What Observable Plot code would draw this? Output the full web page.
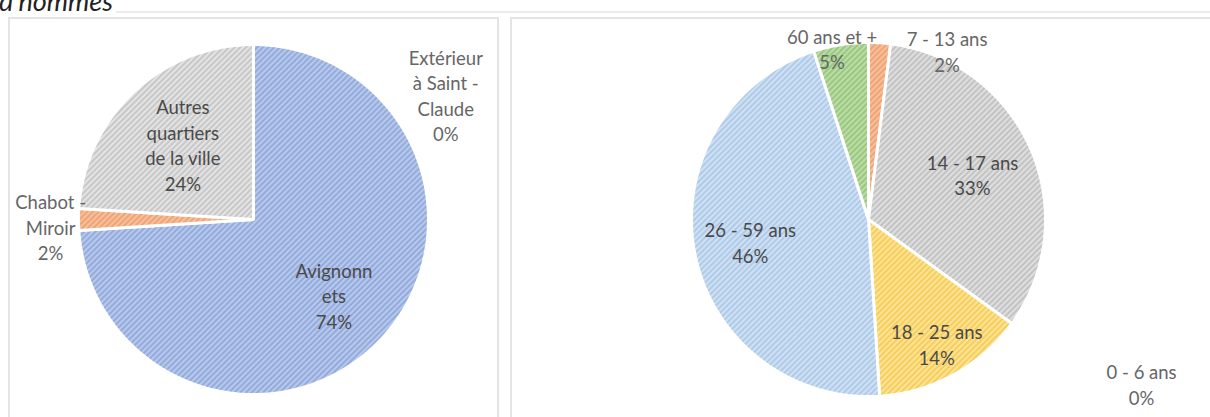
<!DOCTYPE html>
<html>
<head>
<meta charset="utf-8">
<script src="https://cdn.jsdelivr.net/npm/d3@7"></script>
<script src="https://cdn.jsdelivr.net/npm/@observablehq/plot@0.6"></script>
<style>
  html, body { margin: 0; padding: 0; background: #fff; }
  #wrap { position: relative; width: 1210px; height: 417px; overflow: hidden; font-family: Lato, "Open Sans", sans-serif; }
  .title { position: absolute; left: -1px; top: -15px; font-size: 27px; line-height: 1.2; font-style: italic; color: #222; font-family: Lato, sans-serif; white-space: nowrap; }
  .topline { position: absolute; left: 116px; right: 0; top: 11px; height: 2px; background: #ececec; }
  .panel { position: absolute; top: 17px; height: 420px; border: 2px solid #e4e4e4; box-sizing: border-box; }
  .plot { position: absolute; top: 17px; }
</style>
</head>
<body>
<svg width="0" height="0" style="position:absolute">
  <defs>
    <pattern id="pBlue" patternUnits="userSpaceOnUse" width="4" height="4" patternTransform="rotate(45)">
      <rect width="4" height="4" fill="#b8c8eb"/><line x1="1" y1="0" x2="1" y2="4" stroke="#87a3d9" stroke-width="1.5"/>
    </pattern>
    <pattern id="pGray" patternUnits="userSpaceOnUse" width="4" height="4" patternTransform="rotate(45)">
      <rect width="4" height="4" fill="#e3e3e3"/><line x1="1" y1="0" x2="1" y2="4" stroke="#c0c0c0" stroke-width="1.5"/>
    </pattern>
    <pattern id="pOrange" patternUnits="userSpaceOnUse" width="4" height="4" patternTransform="rotate(45)">
      <rect width="4" height="4" fill="#f7c09c"/><line x1="1" y1="0" x2="1" y2="4" stroke="#ee9a66" stroke-width="1.5"/>
    </pattern>
    <pattern id="pLightBlue" patternUnits="userSpaceOnUse" width="4" height="4" patternTransform="rotate(45)">
      <rect width="4" height="4" fill="#cfe0f2"/><line x1="1" y1="0" x2="1" y2="4" stroke="#a5c5e6" stroke-width="1.5"/>
    </pattern>
    <pattern id="pYellow" patternUnits="userSpaceOnUse" width="4" height="4" patternTransform="rotate(45)">
      <rect width="4" height="4" fill="#ffe394"/><line x1="1" y1="0" x2="1" y2="4" stroke="#f3c84a" stroke-width="1.5"/>
    </pattern>
    <pattern id="pGreen" patternUnits="userSpaceOnUse" width="4" height="4" patternTransform="rotate(45)">
      <rect width="4" height="4" fill="#bcdca6"/><line x1="1" y1="0" x2="1" y2="4" stroke="#8fc273" stroke-width="1.5"/>
    </pattern>
    <pattern id="pGray2" patternUnits="userSpaceOnUse" width="4" height="4" patternTransform="rotate(45)">
      <rect width="4" height="4" fill="#dedede"/><line x1="1" y1="0" x2="1" y2="4" stroke="#bababa" stroke-width="1.5"/>
    </pattern>
  </defs>
</svg>
<div id="wrap">
  <div class="title">d'hommes</div>
  <div class="topline"></div>
  <div class="panel" style="left:8px; width:491px;"></div>
  <div class="panel" style="left:510px; width:720px;"></div>
</div>
<script>
// ---- Data ----
const lieuNames = ["Avignonnets", "Chabot - Miroir", "Autres quartiers de la ville", "Extérieur à Saint - Claude"];
const lieuValues = [74, 2, 24, 0];
const lieuLabelText = ["Avignonn\nets", "Chabot -\nMiroir", "Autres\nquartiers\nde la ville", "Extérieur\nà Saint -\nClaude"];

const ageNames = ["0 - 6 ans", "7 - 13 ans", "14 - 17 ans", "18 - 25 ans", "26 - 59 ans", "60 ans et +"];
const ageValues = [0, 2, 33, 14, 46, 5];
const ageLabelText = ["0 - 6 ans", "7 - 13 ans", "14 - 17 ans", "18 - 25 ans", "26 - 59 ans", "60 ans et +"];

// ---- Layout / style ----
const lieuFills = ["url(#pBlue)", "url(#pOrange)", "url(#pGray)", "url(#pGray)"];
const ageFills = ["url(#pGray)", "url(#pOrange)", "url(#pGray2)", "url(#pYellow)", "url(#pLightBlue)", "url(#pGreen)"];
// label placement: a = angle (deg, clockwise from top; default slice mid-angle), r = radius factor
const lieuLabelPos = [{r: 0.63}, {a: 268, r: 1.16}, {r: 0.59}, {a: 57, r: 1.31}];
const ageLabelPos = [{a: 121, r: 1.8}, {a: 25, r: 1.05}, {r: 0.64}, {r: 0.80}, {r: 0.68}, {a: 348, r: 0.99}];

function sliceData(names, values) {
  const arcs = d3.pie().sort(null).value(d => d)(values);
  const pts = [];
  arcs.forEach((a, i) => {
    const span = a.endAngle - a.startAngle;
    if (span <= 0) return;
    pts.push({cat: names[i], x: 0, y: 0});
    const n = Math.max(2, Math.ceil(span / (Math.PI / 180)));
    for (let k = 0; k <= n; k++) {
      const t = a.startAngle + span * k / n;
      pts.push({cat: names[i], x: Math.sin(t), y: Math.cos(t)});
    }
  });
  return {arcs, pts};
}

function labelData(names, values, texts, pos, arcs) {
  return names.map((n, i) => {
    const mid = (arcs[i].startAngle + arcs[i].endAngle) / 2;
    const a = pos[i].a != null ? pos[i].a * Math.PI / 180 : mid;
    const r = pos[i].r;
    return {cat: n, x: r * Math.sin(a), y: r * Math.cos(a), text: texts[i] + "\n" + values[i] + "%", outside: r > 0.95};
  });
}

function pie(names, values, texts, pos, fills, w, h, cx, cy, R) {
  const {arcs, pts} = sliceData(names, values);
  const labels = labelData(names, values, texts, pos, arcs);
  return Plot.plot({
    width: w, height: h,
    margin: 0,
    x: {domain: [-1, 1], range: [cx - R, cx + R], axis: null},
    y: {domain: [-1, 1], range: [cy + R, cy - R], axis: null},
    color: {type: "ordinal", domain: names, range: fills},
    style: {fontFamily: "Lato, 'Open Sans', sans-serif", background: "transparent", overflow: "visible"},
    marks: [
      Plot.line(pts, {x: "x", y: "y", z: "cat", fill: "cat", stroke: "white", strokeWidth: 3, curve: "linear-closed", strokeLinejoin: "miter"}),
      Plot.text(labels, {x: "x", y: "y", text: "text", fill: d => d.outside ? "#666666" : "#4a4a4a", fontSize: 18.5, lineHeight: 1.38, textAnchor: "middle"})
    ]
  });
}

const wrap = document.getElementById("wrap");
const left = pie(lieuNames, lieuValues, lieuLabelText, lieuLabelPos, lieuFills, 490, 400, 245, 202, 175);
left.classList.add("plot");
left.style.left = "8px";
wrap.appendChild(left);

const right = pie(ageNames, ageValues, ageLabelText, ageLabelPos, ageFills, 700, 400, 358, 202, 177);
right.classList.add("plot");
right.style.left = "510px";
wrap.appendChild(right);
</script>
</body>
</html>
